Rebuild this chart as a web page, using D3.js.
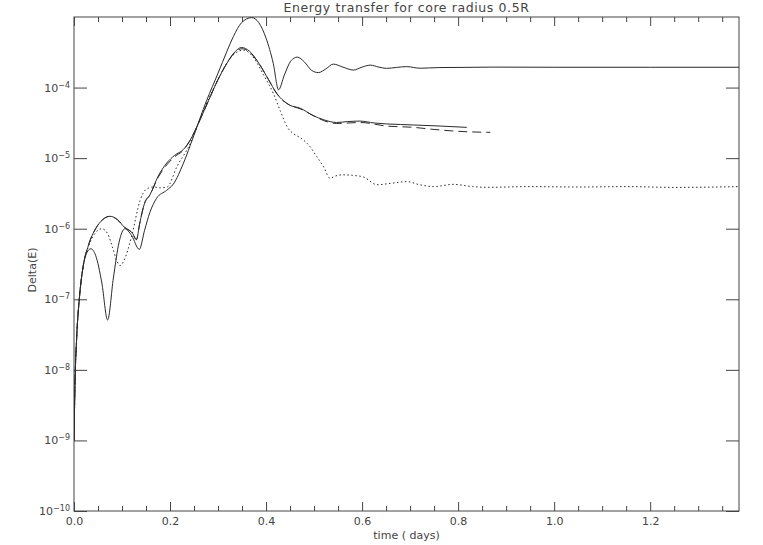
<!DOCTYPE html>
<html>
<head>
<meta charset="utf-8">
<script src="https://cdn.jsdelivr.net/npm/d3@7"></script>
<style>
  html, body { margin: 0; padding: 0; background: #fff; }
  svg { display: block; }
  text { font-family: "DejaVu Sans", sans-serif; fill: #444; }
</style>
</head>
<body>
<svg id="chart" width="763" height="545"></svg>
<script>
// ---- data ----
const titleText = "Energy transfer for core radius 0.5R";
const xLabel = "time ( days)";
const yLabel = "Delta(E)";
const xMajorTicks = [0.0, 0.2, 0.4, 0.6, 0.8, 1.0, 1.2];
const xTickLabels = ["0.0", "0.2", "0.4", "0.6", "0.8", "1.0", "1.2"];
const yTickExponents = [-10, -9, -8, -7, -6, -5, -4];

const timeA = [0.000,0.002,0.0056,0.011,0.019,0.027,0.035,0.045,0.058,0.070,0.082,0.094,0.106,0.120,0.136,0.147,0.158,0.172,0.193,0.207,0.228,0.2485,0.276,0.300,0.318,0.332,0.349,0.370,0.385,0.400,0.415,0.426,0.438,0.452,0.465,0.480,0.495,0.509,0.525,0.540,0.560,0.582,0.600,0.617,0.635,0.651,0.672,0.693,0.721,0.760,0.804,0.873,1.000,1.200,1.385];
const deltaA = [1e-9,6e-9,2.9e-8,1.0e-7,2.9e-7,4.6e-7,5.2e-7,4.2e-7,1.7e-7,5.1e-8,2.0e-7,6.5e-7,1.0e-6,8.0e-7,5.1e-7,9.5e-7,1.7e-6,2.7e-6,3.5e-6,4.3e-6,8.5e-6,2.0e-5,6.5e-5,1.6e-4,3.2e-4,5.3e-4,8.3e-4,9.8e-4,8.3e-4,5.0e-4,2.2e-4,9.3e-5,1.5e-4,2.4e-4,2.7e-4,2.3e-4,1.75e-4,1.63e-4,1.85e-4,2.15e-4,1.95e-4,1.77e-4,1.95e-4,2.08e-4,1.95e-4,1.87e-4,1.93e-4,1.98e-4,1.88e-4,1.92e-4,1.93e-4,1.95e-4,1.94e-4,1.94e-4,1.94e-4];

const timeB = [0.000,0.002,0.0056,0.011,0.019,0.030,0.045,0.060,0.075,0.090,0.105,0.122,0.130,0.137,0.147,0.158,0.175,0.193,0.210,0.228,0.242,0.2625,0.280,0.300,0.320,0.335,0.349,0.365,0.387,0.405,0.422,0.436,0.450,0.471,0.4985,0.520,0.547,0.570,0.596,0.625,0.651,0.680,0.707,0.7625,0.818];
const deltaB = [1e-9,6e-9,2.9e-8,1.0e-7,2.9e-7,5.8e-7,1.0e-6,1.35e-6,1.5e-6,1.35e-6,1.05e-6,8.6e-7,7.0e-7,1.2e-6,2.3e-6,3.0e-6,5.5e-6,8.5e-6,1.1e-5,1.33e-5,1.8e-5,3.5e-5,6.5e-5,1.3e-4,2.3e-4,3.2e-4,3.7e-4,3.3e-4,2.1e-4,1.3e-4,8.3e-5,6.5e-5,5.6e-5,5.1e-5,4.0e-5,3.5e-5,3.2e-5,3.3e-5,3.35e-5,3.15e-5,3.05e-5,3.0e-5,2.95e-5,2.85e-5,2.73e-5];

const timeC = [0.000,0.002,0.0056,0.011,0.019,0.030,0.045,0.060,0.075,0.090,0.105,0.122,0.130,0.137,0.147,0.158,0.175,0.193,0.210,0.228,0.242,0.2625,0.280,0.300,0.320,0.335,0.350,0.365,0.387,0.405,0.422,0.436,0.450,0.471,0.4985,0.520,0.547,0.596,0.651,0.707,0.750,0.800,0.867];
const deltaC = [1e-9,6e-9,2.9e-8,1.0e-7,2.9e-7,5.8e-7,1.0e-6,1.35e-6,1.5e-6,1.35e-6,1.05e-6,8.6e-7,7.0e-7,1.2e-6,2.3e-6,3.0e-6,5.3e-6,8.0e-6,1.05e-5,1.3e-5,1.8e-5,3.5e-5,6.5e-5,1.3e-4,2.3e-4,3.15e-4,3.55e-4,3.2e-4,2.1e-4,1.3e-4,8.3e-5,6.5e-5,5.6e-5,5.0e-5,4.0e-5,3.4e-5,3.1e-5,3.2e-5,2.85e-5,2.73e-5,2.55e-5,2.4e-5,2.32e-5];

const timeD = [0.000,0.002,0.0056,0.011,0.019,0.030,0.045,0.058,0.070,0.080,0.090,0.096,0.106,0.120,0.1375,0.150,0.165,0.180,0.194,0.214,0.242,0.270,0.300,0.325,0.353,0.375,0.395,0.415,0.430,0.445,0.458,0.471,0.490,0.5056,0.520,0.533,0.545,0.558,0.580,0.603,0.631,0.660,0.693,0.720,0.749,0.790,0.830,0.860,0.950,1.050,1.150,1.250,1.385];
const deltaD = [1e-9,6e-9,2.9e-8,1.0e-7,2.9e-7,5.6e-7,8.8e-7,1.0e-6,8.5e-7,5.5e-7,3.4e-7,3.0e-7,3.8e-7,7.8e-7,2.5e-6,3.6e-6,3.9e-6,3.8e-6,3.9e-6,7.5e-6,1.6e-5,4.8e-5,1.3e-4,2.6e-4,3.4e-4,2.6e-4,1.5e-4,8.3e-5,4.6e-5,2.7e-5,2.2e-5,1.95e-5,1.5e-5,1.05e-5,7.5e-6,5.2e-6,5.6e-6,5.8e-6,5.7e-6,5.4e-6,4.2e-6,4.4e-6,4.65e-6,4.2e-6,3.95e-6,4.25e-6,3.95e-6,3.86e-6,3.95e-6,3.9e-6,3.95e-6,3.85e-6,3.95e-6];

// ---- layout ----
const L = 74, R = 739, T = 17, B = 511;
const svg = d3.select("#chart");
const x = d3.scaleLinear().domain([0, 1.385]).range([L, R]);
const y = d3.scaleLog().domain([1e-10, 1e-3]).range([B, T]);
const axisColor = "#444";

// frame
svg.append("rect").attr("x", L).attr("y", T).attr("width", R - L).attr("height", B - T)
  .attr("fill", "none").attr("stroke", axisColor).attr("stroke-width", 1);

// x ticks (major + minor) bottom & top, inward
const xMinor = d3.range(0, 1.385, 0.05).filter(v => !xMajorTicks.some(m => Math.abs(m - v) < 1e-6));
const bottomAxis = d3.axisBottom(x).tickValues(xMajorTicks).tickSize(-9).tickFormat((d, i) => xTickLabels[i]).tickPadding(6);
const gB = svg.append("g").attr("transform", `translate(0,${B})`).call(bottomAxis);
gB.select(".domain").remove();
gB.selectAll("line").attr("stroke", axisColor);
gB.selectAll("text").attr("font-size", 11).attr("fill", "#555").attr("font-family", "DejaVu Sans, sans-serif");
const gBm = svg.append("g").attr("transform", `translate(0,${B})`).call(d3.axisBottom(x).tickValues(xMinor).tickSize(-5).tickFormat(""));
gBm.select(".domain").remove(); gBm.selectAll("line").attr("stroke", axisColor);

const gT = svg.append("g").attr("transform", `translate(0,${T})`).call(d3.axisTop(x).tickValues(xMajorTicks).tickSize(-9).tickFormat(""));
gT.select(".domain").remove(); gT.selectAll("line").attr("stroke", axisColor);
const gTm = svg.append("g").attr("transform", `translate(0,${T})`).call(d3.axisTop(x).tickValues(xMinor).tickSize(-5).tickFormat(""));
gTm.select(".domain").remove(); gTm.selectAll("line").attr("stroke", axisColor);

// y ticks left & right, inward
const yTickVals = yTickExponents.map(e => Math.pow(10, e));
const gL = svg.append("g").attr("transform", `translate(${L},0)`).call(d3.axisLeft(y).tickValues(yTickVals).tickSize(-13).tickFormat(""));
gL.select(".domain").remove(); gL.selectAll("line").attr("stroke", axisColor);
const gR = svg.append("g").attr("transform", `translate(${R},0)`).call(d3.axisRight(y).tickValues(yTickVals).tickSize(-13).tickFormat(""));
gR.select(".domain").remove(); gR.selectAll("line").attr("stroke", axisColor);

// y tick labels 10^n
yTickExponents.forEach(e => {
  const t = svg.append("text").attr("x", L - 4).attr("y", y(Math.pow(10, e)) + 4)
    .attr("text-anchor", "end").attr("font-size", 11).attr("fill", "#555");
  t.append("tspan").text("10");
  t.append("tspan").attr("dy", -4).attr("font-size", 8).text("\u2212" + Math.abs(e));
});

// titles
svg.append("text").attr("x", (L + R) / 2).attr("y", 12).attr("text-anchor", "middle")
  .attr("font-size", 12.5).attr("letter-spacing", 0.6).attr("fill", "#444").text(titleText);
svg.append("text").attr("x", (L + R) / 2).attr("y", 539).attr("text-anchor", "middle")
  .attr("font-size", 11).attr("fill", "#555").text(xLabel);
svg.append("text").attr("transform", `translate(36,270) rotate(-90)`).attr("text-anchor", "middle")
  .attr("font-size", 11).attr("fill", "#555").text(yLabel);

// curves
const line = d3.line().x(d => x(d[0])).y(d => y(d[1])).curve(d3.curveMonotoneX);
const series = [
  { t: timeA, v: deltaA, dash: null },
  { t: timeB, v: deltaB, dash: null },
  { t: timeC, v: deltaC, dash: "9,5" },
  { t: timeD, v: deltaD, dash: "1.5,2.5" }
];
const clip = svg.append("clipPath").attr("id", "clip").append("rect")
  .attr("x", L).attr("y", T).attr("width", R - L).attr("height", B - T);
series.forEach(s => {
  svg.append("path").datum(s.t.map((tt, i) => [tt, s.v[i]]))
    .attr("d", line).attr("fill", "none").attr("stroke", "#2a2a2a").attr("stroke-width", 1)
    .attr("clip-path", "url(#clip)")
    .attr("stroke-dasharray", s.dash);
});
</script>
</body>
</html>
